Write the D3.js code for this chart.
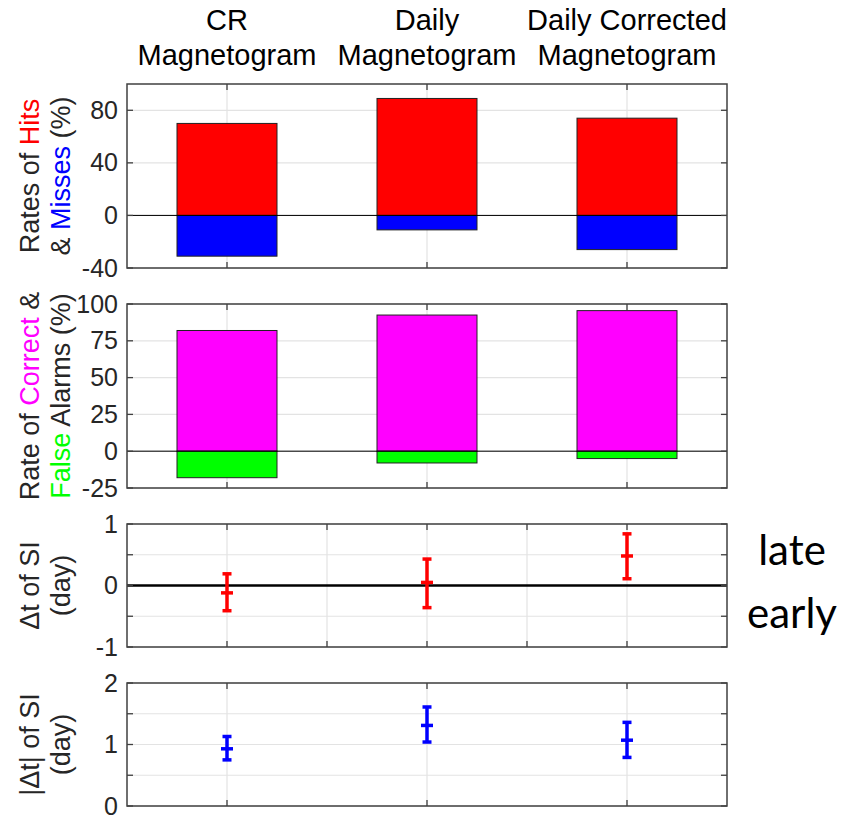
<!DOCTYPE html>
<html>
<head>
<meta charset="utf-8">
<script src="https://cdn.jsdelivr.net/npm/d3@7"></script>
<style>
  body { margin: 0; background: #fff; }
  svg { display: block; font-family: "Liberation Sans", Arial, sans-serif; }
</style>
</head>
<body>
<svg id="chart" width="851" height="816"></svg>
<script>
// column titles (one entry per magnetogram type)
var categories = [
    ['CR', 'Magnetogram'],
    ['Daily', 'Magnetogram'],
    ['Daily Corrected', 'Magnetogram']
];
var catIndex = [1, 2, 3];

// panel 1 - rates of hits / misses (%)
var hitRates = [70, 89, 74];
var missRates = [-31, -11, -26];
var ticks1 = [-40, 0, 40, 80];

// panel 2 - correct / false alarms (%)
var correctRates = [82, 92.5, 95.5];
var falseRates = [-18, -8, -5];
var ticks2 = [-25, 0, 25, 50, 75, 100];

// panel 3 - delta t of SI (day)
var dtMean = [-0.12, 0.05, 0.48];
var dtLow = [-0.41, -0.36, 0.11];
var dtHigh = [0.19, 0.43, 0.84];
var ticks3 = [-1, 0, 1];

// panel 4 - |delta t| of SI (day)
var absMean = [0.93, 1.31, 1.07];
var absLow = [0.75, 1.04, 0.79];
var absHigh = [1.13, 1.61, 1.36];
var ticks4 = [0, 1, 2];

(function(){
    'use strict';
    var svg = d3.select('#chart');
    var left = 127, right = 727;
    var x = d3.scaleLinear().domain([0.5, 3.5]).range([left, right]);
    var axisCol = '#404040', gridCol = '#e3e3e3';

    // titles
    categories.forEach(function(lines, i){
        var t = svg.append('text')
            .attr('x', x(catIndex[i])).attr('y', 30)
            .attr('text-anchor', 'middle')
            .style('font-size', '29px').attr('fill', '#000');
        lines.forEach(function(l, k){
            t.append('tspan').attr('x', x(catIndex[i])).attr('dy', k === 0 ? 0 : 35).text(l);
        });
    });

    function makePanel(opts){
        var y = d3.scaleLinear().domain(opts.domain).range([opts.bottom, opts.top]);
        var g = svg.append('g');

        // grid
        g.selectAll('.gx').data(opts.xgrid).enter().append('line')
            .attr('x1', function(d){return x(d);}).attr('x2', function(d){return x(d);})
            .attr('y1', opts.top).attr('y2', opts.bottom)
            .attr('stroke', gridCol).attr('stroke-width', 1.2);
        g.selectAll('.gy').data(opts.ygrid).enter().append('line')
            .attr('x1', left).attr('x2', right)
            .attr('y1', function(d){return y(d);}).attr('y2', function(d){return y(d);})
            .attr('stroke', gridCol).attr('stroke-width', 1.2);

        opts.draw(g, y);

        // ticks (inward, on all four sides)
        var tl = 6;
        opts.xgrid.forEach(function(d){
            g.append('line').attr('x1', x(d)).attr('x2', x(d)).attr('y1', opts.top).attr('y2', opts.top + tl)
                .attr('stroke', axisCol).attr('stroke-width', 1.3);
            g.append('line').attr('x1', x(d)).attr('x2', x(d)).attr('y1', opts.bottom).attr('y2', opts.bottom - tl)
                .attr('stroke', axisCol).attr('stroke-width', 1.3);
        });
        opts.ygrid.forEach(function(d){
            g.append('line').attr('x1', left).attr('x2', left + tl).attr('y1', y(d)).attr('y2', y(d))
                .attr('stroke', axisCol).attr('stroke-width', 1.3);
            g.append('line').attr('x1', right).attr('x2', right - tl).attr('y1', y(d)).attr('y2', y(d))
                .attr('stroke', axisCol).attr('stroke-width', 1.3);
        });

        // box
        g.append('rect').attr('x', left).attr('y', opts.top)
            .attr('width', right - left).attr('height', opts.bottom - opts.top)
            .attr('fill', 'none').attr('stroke', axisCol).attr('stroke-width', 1.5);

        // tick labels
        g.selectAll('.tl').data(opts.labels).enter().append('text')
            .attr('x', left - 9).attr('y', function(d){return y(d);})
            .attr('dy', '0.34em').attr('text-anchor', 'end')
            .style('font-size', '25px').attr('fill', '#262626')
            .text(function(d){return d;});

        // y label (two rotated lines)
        var cy = (opts.top + opts.bottom) / 2;
        opts.ylabel.forEach(function(parts, k){
            var t = g.append('text')
                .attr('transform', 'translate(' + (k === 0 ? 39 : 70) + ',' + cy + ') rotate(-90)')
                .attr('text-anchor', 'middle')
                .style('font-size', '27px').attr('fill', '#262626');
            parts.forEach(function(p){
                t.append('tspan').attr('fill', p[1] || '#262626').text(p[0]);
            });
        });
        return y;
    }

    function stackedBars(pos, neg, posCol, negCol){
        return function(g, y){
            g.selectAll('.bp').data(pos).enter().append('rect')
                .attr('x', function(d, i){return x(catIndex[i] - 0.25);})
                .attr('width', x(1.25) - x(0.75))
                .attr('y', function(d){return y(d);})
                .attr('height', function(d){return y(0) - y(d);})
                .attr('fill', posCol).attr('stroke', '#222').attr('stroke-width', 1);
            g.selectAll('.bn').data(neg).enter().append('rect')
                .attr('x', function(d, i){return x(catIndex[i] - 0.25);})
                .attr('width', x(1.25) - x(0.75))
                .attr('y', y(0))
                .attr('height', function(d){return y(d) - y(0);})
                .attr('fill', negCol).attr('stroke', '#222').attr('stroke-width', 1);
            g.append('line').attr('x1', left).attr('x2', right).attr('y1', y(0)).attr('y2', y(0))
                .attr('stroke', '#000').attr('stroke-width', 1);
        };
    }

    function errorBars(mean, low, high, col, zeroLine){
        return function(g, y){
            if(zeroLine){
                g.append('line').attr('x1', left).attr('x2', right).attr('y1', y(0)).attr('y2', y(0))
                    .attr('stroke', '#000').attr('stroke-width', 2.6);
            }
            mean.forEach(function(m, i){
                var cx = x(catIndex[i]);
                g.append('line').attr('x1', cx).attr('x2', cx).attr('y1', y(low[i])).attr('y2', y(high[i]))
                    .attr('stroke', col).attr('stroke-width', 3.5);
                [low[i], high[i]].forEach(function(v){
                    g.append('line').attr('x1', cx - 4.5).attr('x2', cx + 4.5).attr('y1', y(v)).attr('y2', y(v))
                        .attr('stroke', col).attr('stroke-width', 3.5);
                });
                g.append('line').attr('x1', cx - 6).attr('x2', cx + 6).attr('y1', y(m)).attr('y2', y(m))
                    .attr('stroke', col).attr('stroke-width', 3.5);
            });
        };
    }

    makePanel({
        top: 84, bottom: 268, domain: [-40, 100],
        xgrid: [1, 2, 3], ygrid: ticks1, labels: ticks1,
        ylabel: [[['Rates of '], ['Hits', '#ff0000']], [['& '], ['Misses', '#0000ff'], [' (%)']]],
        draw: stackedBars(hitRates, missRates, '#ff0000', '#0000ff')
    });
    makePanel({
        top: 304, bottom: 488, domain: [-25, 100],
        xgrid: [1, 2, 3], ygrid: ticks2, labels: ticks2,
        ylabel: [[['Rate of '], ['Correct', '#ff00ff'], [' &']], [['False', '#00ff00'], [' Alarms (%)']]],
        draw: stackedBars(correctRates, falseRates, '#ff00ff', '#00ff00')
    });
    makePanel({
        top: 524, bottom: 647, domain: [-1, 1],
        xgrid: [1, 1.5, 2, 2.5, 3], ygrid: [-1, -0.5, 0, 0.5, 1], labels: ticks3,
        ylabel: [[['\u0394t of SI']], [['(day)']]],
        draw: errorBars(dtMean, dtLow, dtHigh, '#ff0000', true)
    });
    makePanel({
        top: 683, bottom: 806, domain: [0, 2],
        xgrid: [1, 2, 3], ygrid: [0, 0.5, 1, 1.5, 2], labels: ticks4,
        ylabel: [[['|\u0394t| of SI']], [['(day)']]],
        draw: errorBars(absMean, absLow, absHigh, '#0000ff', false)
    });

    // side notes
    svg.append('text').attr('x', 792).attr('y', 565).attr('text-anchor', 'middle')
        .style('font-family', 'Lato, "Open Sans", sans-serif').style('font-size', '42px').text('late');
    svg.append('text').attr('x', 792).attr('y', 628).attr('text-anchor', 'middle')
        .style('font-family', 'Lato, "Open Sans", sans-serif').style('font-size', '42px').text('early');
}());
</script>
</body>
</html>
